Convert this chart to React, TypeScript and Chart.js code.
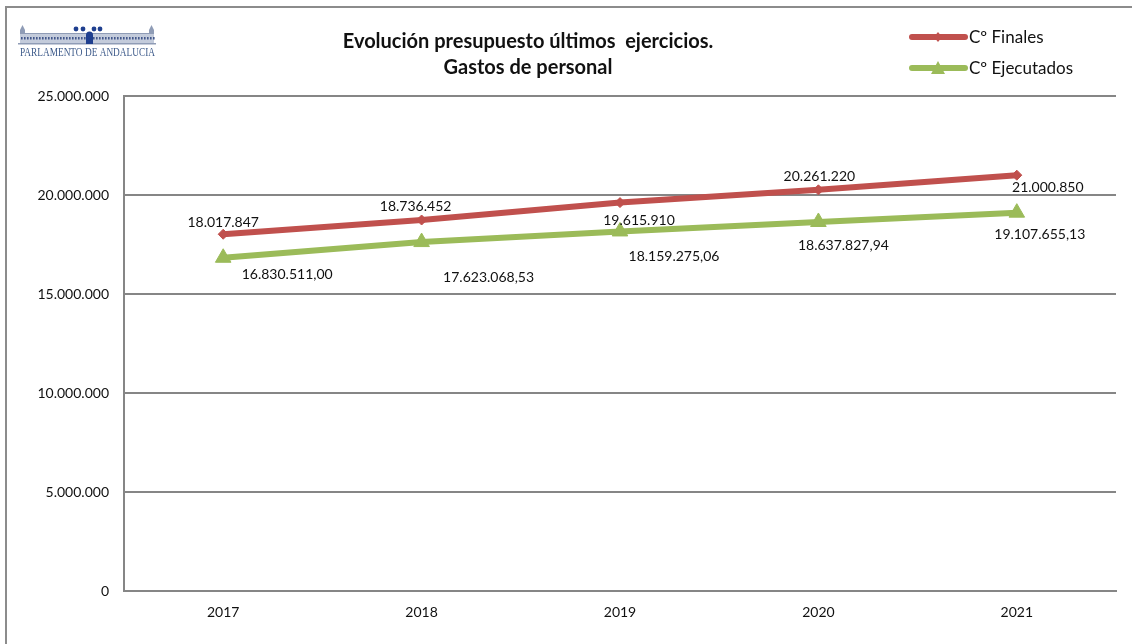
import React, { useEffect, useRef } from "react";
import { Chart, registerables } from "chart.js";

Chart.register(...registerables);

const years = ["2017", "2018", "2019", "2020", "2021"];
const finales = [18017847, 18736452, 19615910, 20261220, 21000850];
const ejecutados = [16830511.0, 17623068.53, 18159275.06, 18637827.94, 19107655.13];
const finalesLabels = ["18.017.847", "18.736.452", "19.615.910", "20.261.220", "21.000.850"];
const ejecutadosLabels = ["16.830.511,00", "17.623.068,53", "18.159.275,06", "18.637.827,94", "19.107.655,13"];
const titleLines = ["Evolución presupuesto últimos  ejercicios.", "Gastos de personal"];
const seriesNames = ["Cº Finales", "Cº Ejecutados"];

const FONT = "Lato, Carlito, sans-serif";
const RED = "#C0504D";
const GREEN = "#9BBB59";
const GRID = "#868686";
const TEXT = "#111111";

// label offsets from each point, in px
const finalesOffsets = [[0, -12], [-6, -14], [19, 18], [1, -13], [31, 12]];
const ejecutadosOffsets = [[64, 17], [67, 35], [54, 25], [25, 24], [23, 22]];

const formatTick = (v: number) =>
  String(v).replace(/\B(?=(\d{3})+(?!\d))/g, ".");

const decorations = {
  id: "decorations",
  afterDatasetsDraw(chart: any) {
    const { ctx } = chart;
    ctx.save();

    // outer frame
    ctx.strokeStyle = "#8c8c8c";
    ctx.lineWidth = 2;
    ctx.beginPath();
    ctx.moveTo(6, 644);
    ctx.lineTo(6, 7);
    ctx.lineTo(1132, 7);
    ctx.stroke();

    // title
    ctx.fillStyle = "#111";
    ctx.textAlign = "center";
    ctx.textBaseline = "middle";
    ctx.font = `bold 20px ${FONT}`;
    ctx.fillText(titleLines[0], 528, 42);
    ctx.fillText(titleLines[1], 528, 68);

    // data labels
    ctx.font = `14px ${FONT}`;
    ctx.fillStyle = TEXT;
    const sets = [
      { labels: finalesLabels, offs: finalesOffsets },
      { labels: ejecutadosLabels, offs: ejecutadosOffsets },
    ];
    sets.forEach((s, i) => {
      chart.getDatasetMeta(i).data.forEach((el: any, j: number) => {
        ctx.fillText(s.labels[j], el.x + s.offs[j][0], el.y + s.offs[j][1]);
      });
    });

    // legend
    const legend = [
      { y: 37, color: RED, name: seriesNames[0], style: "rectRot" },
      { y: 68, color: GREEN, name: seriesNames[1], style: "triangle" },
    ];
    legend.forEach((l) => {
      ctx.strokeStyle = l.color;
      ctx.lineWidth = 6;
      ctx.lineCap = "round";
      ctx.beginPath();
      ctx.moveTo(912, l.y);
      ctx.lineTo(965, l.y);
      ctx.stroke();
      ctx.fillStyle = l.color;
      ctx.beginPath();
      if (l.style === "triangle") {
        ctx.moveTo(938, l.y - 7);
        ctx.lineTo(945, l.y + 6);
        ctx.lineTo(931, l.y + 6);
      } else {
        ctx.moveTo(938, l.y - 5);
        ctx.lineTo(942, l.y);
        ctx.lineTo(938, l.y + 5);
        ctx.lineTo(934, l.y);
      }
      ctx.closePath();
      ctx.fill();
      ctx.fillStyle = TEXT;
      ctx.textAlign = "left";
      ctx.font = `17px ${FONT}`;
      ctx.fillText(l.name, 969, l.y + 1);
    });

    // logo: building
    ctx.fillStyle = "#c3cbdb";
    ctx.fillRect(20, 34, 134, 9);
    ctx.fillStyle = "#44598c";
    for (let x = 21; x < 154; x += 3) ctx.fillRect(x, 37, 1.6, 2.5);
    ctx.fillStyle = "#8f9cb6";
    ctx.fillRect(20, 33, 134, 1);
    ctx.fillRect(18, 43, 138, 1.5);
    [[22.5, 27], [151.5, 27]].forEach(([x, y]) => {
      ctx.beginPath();
      ctx.moveTo(x, y - 2);
      ctx.lineTo(x + 2.5, y + 3);
      ctx.lineTo(x + 2.5, y + 7);
      ctx.lineTo(x - 2.5, y + 7);
      ctx.lineTo(x - 2.5, y + 3);
      ctx.closePath();
      ctx.fill();
    });
    ctx.fillStyle = "#1f3f8f";
    ctx.fillRect(86, 35, 7, 9);
    ctx.beginPath();
    ctx.arc(89.5, 35, 3.5, 0, Math.PI * 2);
    ctx.fill();
    [76, 83, 94, 100].forEach((x) => {
      ctx.beginPath();
      ctx.arc(x, 29, 2.4, 0, Math.PI * 2);
      ctx.fill();
    });
    ctx.fillStyle = "#3d5a8a";
    ctx.textAlign = "left";
    ctx.font = `12px "Liberation Serif", serif`;
    ctx.fillText("PARLAMENTO DE ANDALUCIA", 20, 53, 135);

    ctx.restore();
  },
};

export default function App() {
  const ref = useRef<HTMLCanvasElement>(null);
  useEffect(() => {
    document.body.style.margin = "0";
    const chart = new Chart(ref.current!, {
      type: "line",
      data: {
        labels: years,
        datasets: [
          {
            label: seriesNames[0],
            data: finales,
            borderColor: RED,
            backgroundColor: RED,
            borderWidth: 6,
            pointStyle: "rectRot",
            pointRadius: 5,
            pointBorderWidth: 1,
            tension: 0,
          },
          {
            label: seriesNames[1],
            data: ejecutados,
            borderColor: GREEN,
            backgroundColor: GREEN,
            borderWidth: 6,
            pointStyle: "triangle",
            pointRadius: 9,
            pointBorderWidth: 1,
            tension: 0,
          },
        ],
      },
      options: {
        responsive: false,
        animation: false,
        layout: { padding: { left: 0, right: 16, top: 96, bottom: 0 } },
        plugins: { legend: { display: false }, title: { display: false }, tooltip: { enabled: false } },
        scales: {
          x: {
            offset: true,
            afterFit: (s: any) => { s.height = 53; },
            grid: { display: false, drawTicks: false },
            border: { color: GRID, width: 2 },
            ticks: { color: TEXT, font: { family: FONT, size: 14 }, padding: 13, maxRotation: 0 },
          },
          y: {
            min: 0,
            max: 25000000,
            afterFit: (s: any) => { s.width = 124; },
            grid: { color: GRID, lineWidth: 2, drawTicks: false },
            border: { color: GRID, width: 2 },
            ticks: {
              stepSize: 5000000,
              color: TEXT,
              padding: 15,
              font: { family: FONT, size: 14 },
              callback: (v: any) => formatTick(Number(v)),
            },
          },
        },
      },
      plugins: [decorations],
    });
    return () => chart.destroy();
  }, []);
  return (
    <canvas
      ref={ref}
      width={1132}
      height={644}
      style={{ display: "block", width: 1132, height: 644, background: "#fff" }}
    />
  );
}
